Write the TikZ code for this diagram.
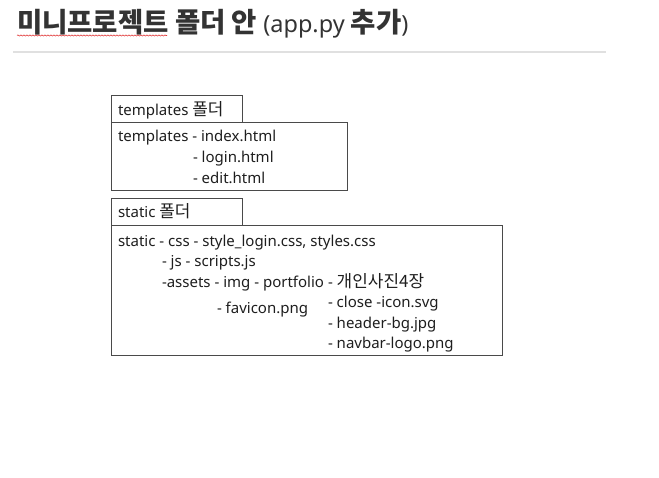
\documentclass[tikz,border=0pt]{standalone}
\usepackage{fontspec}
\usetikzlibrary{decorations.pathmorphing}
\setmainfont{Noto Sans}
\newfontfamily\korfont{Noto Sans CJK KR}[Scale=1.13]
\newfontfamily\kortitle{Noto Sans CJK KR}[Scale=1.17]
\newcommand\kor[1]{{\korfont #1}}
\definecolor{inkgray}{HTML}{333333}
\definecolor{rulegray}{HTML}{E0E0E0}
\definecolor{boxline}{HTML}{4A4A4A}
\definecolor{spellred}{HTML}{E03434}
\definecolor{entryink}{HTML}{1E1E1E}

\begin{document}
\begin{tikzpicture}[x=1pt, y=-1pt,
  every node/.style={inner sep=0pt, outer sep=0pt},
  folderbox/.style={draw=boxline, line width=0.9pt, anchor=north west},
  entry/.style={anchor=base west, font=\fontsize{15}{18}\selectfont, text=entryink}]

  \useasboundingbox (0,0) rectangle (659,478);

  % Title, spell-check squiggle and rule
  \node[anchor=base west, text=inkgray, font=\fontsize{23.5}{28}\selectfont] (title) at (17,33)
    {{\kortitle\bfseries 미니프로젝트 폴더 안} (app.py {\kortitle\bfseries 추가})};
  \draw[spellred, line width=0.6pt, decorate, decoration={snake, amplitude=0.6pt, segment length=3pt}]
    (17,35.5) -- (167,35.5);
  \draw[rulegray, line width=1.5pt] (13,52) -- (606,52);

  % templates folder
  \node[folderbox, minimum width=131pt, minimum height=27pt] (tplhead) at (111.5,95.5) {};
  \node[folderbox, minimum width=236pt, minimum height=68pt] (tplbody) at (111.5,122.5) {};
  \node[entry] (tplname) at (118,115.5) {templates \kor{폴더}};
  \foreach \n/\x/\y/\t in {
    tplroot/118/141.5/{templates - index.html},
    tpllogin/193/162.5/{- login.html},
    tpledit/193/183.5/{- edit.html}
  } {
    \node[entry] (\n) at (\x,\y) {\t};
  }

  % static folder
  \node[folderbox, minimum width=131pt, minimum height=27pt] (sthead) at (111.5,198.5) {};
  \node[folderbox, minimum width=391pt, minimum height=130pt] (stbody) at (111.5,225.5) {};
  \node[entry] (stname) at (118,217.5) {static \kor{폴더}};
  \foreach \n/\x/\y/\t in {
    stroot/118/246.5/{static - css - style\_login.css, styles.css},
    stjs/162/266.5/{- js - scripts.js},
    stassets/162/287.5/{-assets - img - portfolio},
    stphotos/328/287.5/{- \kor{개인사진4장}},
    stclose/328/308/{- close -icon.svg},
    stfavicon/217/314/{- favicon.png},
    stheader/328/328.5/{- header-bg.jpg},
    stnavbar/328/349/{- navbar-logo.png}
  } {
    \node[entry] (\n) at (\x,\y) {\t};
  }

\end{tikzpicture}
\end{document}
